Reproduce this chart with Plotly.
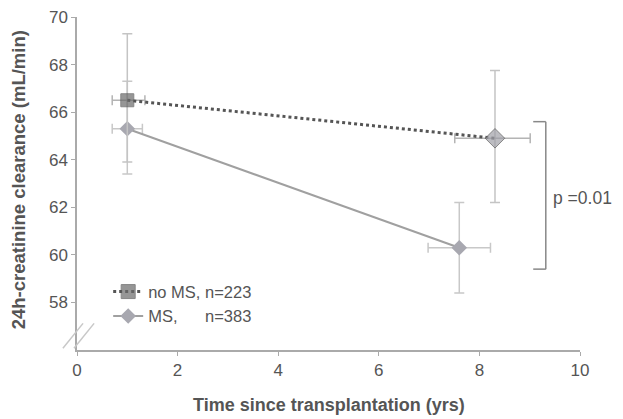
import plotly.graph_objects as go

# Data
years_nms = [1.0, 8.31]
vals_nms = [66.5, 64.9]
err_nms_up = [2.8, 2.85]
err_nms_dn = [2.6, 2.7]
xerr_nms_r = [0.35, 0.7]
xerr_nms_l = [0.3, 0.8]

years_ms = [1.0, 7.6]
vals_ms = [65.3, 60.3]
err_ms_up = [2.0, 1.9]
err_ms_dn = [1.9, 1.9]
xerr_ms_r = [0.3, 0.62]
xerr_ms_l = [0.3, 0.62]

label_nms = "no MS, n=223"
label_ms = "MS,      n=383"
p_text = "p =0.01"
x_title = "<b>Time since transplantation (yrs)</b>"
y_title = "<b>24h-creatinine clearance (mL/min)</b>"

FONT = "Liberation Sans, Arial"
TXT = "#555555"

fig = go.Figure()
fig.add_trace(go.Scatter(
    x=years_ms, y=vals_ms, mode="lines+markers", name=label_ms,
    line=dict(color="#a0a0a0", width=2),
    marker=dict(symbol="diamond", size=12, color="#a8a8b0"),
    error_y=dict(type="data", symmetric=False, array=err_ms_up, arrayminus=err_ms_dn,
                 color="#c8c8c8", thickness=1.5, width=5),
    error_x=dict(type="data", symmetric=False, array=xerr_ms_r, arrayminus=xerr_ms_l,
                 color="#c8c8c8", thickness=1.5, width=5),
))
fig.add_trace(go.Scatter(
    x=years_nms, y=vals_nms, mode="lines+markers", name=label_nms,
    line=dict(color="#555555", width=3, dash="dot"),
    marker=dict(symbol=["square", "diamond"], size=[13, 15], color=["#6a6a6a", "#a0a0a8"]),
    error_y=dict(type="data", symmetric=False, array=err_nms_up, arrayminus=err_nms_dn,
                 color="#c4c4c4", thickness=1.5, width=5),
    error_x=dict(type="data", symmetric=False, array=xerr_nms_r, arrayminus=xerr_nms_l,
                 color="#b4b4b4", thickness=1.5, width=5),
))

# significance bracket
bx = 9.32
fig.add_shape(type="line", x0=bx, x1=bx, y0=65.6, y1=59.4, line=dict(color="#888888", width=1.5))
fig.add_shape(type="line", x0=bx - 0.25, x1=bx, y0=65.6, y1=65.6, line=dict(color="#888888", width=1.5))
fig.add_shape(type="line", x0=bx - 0.25, x1=bx, y0=59.4, y1=59.4, line=dict(color="#888888", width=1.5))
fig.add_annotation(x=9.42, y=62.4, text=p_text, showarrow=False, xanchor="left",
                   font=dict(size=17.5, color=TXT, family=FONT))

# axis titles as annotations
fig.add_annotation(xref="paper", yref="paper", x=0.5, y=-0.165, text=x_title, showarrow=False,
                   xanchor="center", yanchor="middle", font=dict(size=18, color=TXT, family=FONT))
fig.add_annotation(xref="paper", yref="paper", x=-0.117, y=0.51, text=y_title, showarrow=False,
                   textangle=-90, xanchor="center", yanchor="middle",
                   font=dict(size=18.5, color=TXT, family=FONT))

# axis break marks
for off in [0.0, 0.022]:
    fig.add_shape(type="line", xref="paper", yref="paper",
                  x0=-0.028 + off, y0=0.005, x1=0.012 + off, y1=0.08,
                  line=dict(color="#c8c8c8", width=1.5))

fig.update_layout(
    width=623, height=419,
    margin=dict(l=69, r=51, t=9, b=77),
    paper_bgcolor="white", plot_bgcolor="white",
    font=dict(family=FONT, color=TXT, size=17),
    showlegend=True,
    legend=dict(x=0.062, y=0.05, xanchor="left", yanchor="bottom",
                bgcolor="rgba(0,0,0,0)", font=dict(size=16.5, color=TXT),
                traceorder="reversed", itemwidth=30, tracegroupgap=0),
    xaxis=dict(range=[0, 10], tickvals=[0, 2, 4, 6, 8, 10], showgrid=False, zeroline=False,
               showline=True, linecolor="#aaaaaa", linewidth=1.5, ticks="outside",
               ticklen=4, tickcolor="#aaaaaa", automargin=False, ticklabeloverflow="allow",
               tickfont=dict(size=17, color=TXT)),
    yaxis=dict(range=[56, 70], tickvals=[58, 60, 62, 64, 66, 68, 70], showgrid=False, zeroline=False,
               showline=True, linecolor="#aaaaaa", linewidth=1.5, ticks="outside",
               ticklen=4, tickcolor="#aaaaaa", automargin=False, ticklabeloverflow="allow",
               tickfont=dict(size=17, color=TXT)),
)

fig.write_html("out.html")
